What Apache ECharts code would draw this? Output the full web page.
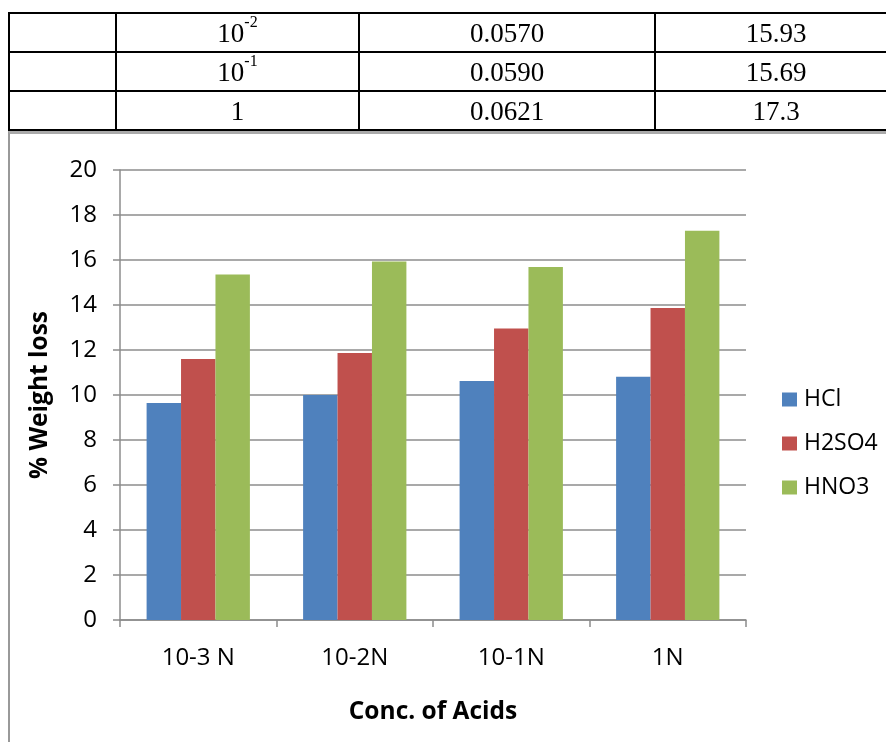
<!DOCTYPE html>
<html><head><meta charset="utf-8">
<script src="https://cdn.jsdelivr.net/npm/echarts@6/dist/echarts.min.js"></script>
<style>
html,body{margin:0;padding:0;background:#fff;}
#wrap{position:relative;width:886px;height:742px;overflow:hidden;}
#chart{position:absolute;left:0;top:0;width:886px;height:742px;}
table{position:absolute;left:8px;top:12px;border-collapse:collapse;font-family:"Liberation Serif","Times New Roman",serif;font-size:27px;}
td{border:2px solid #000;height:37px;padding:0;text-align:center;vertical-align:middle;line-height:30px;}
sup{font-size:16px;vertical-align:top;position:relative;top:-4px;line-height:16px;}
#frame{position:absolute;left:8px;top:131px;width:900px;height:700px;border-left:2px solid #999;border-top:3px solid #aaa;}
</style></head>
<body><div id="wrap">
<div id="chart"></div>
<div id="frame"></div>
<table id="tbl"></table>
</div>
<script>
const tableRows = [
  ["", "10<sup>-2</sup>", "0.0570", "15.93"],
  ["", "10<sup>-1</sup>", "0.0590", "15.69"],
  ["", "1", "0.0621", "17.3"]
];
const colWidths = [105, 241, 294, 240];

const categories = ["10-3 N", "10-2N", "10-1N", "1N"];
const hcl = [9.64, 10.0, 10.62, 10.81];
const h2so4 = [11.6, 11.87, 12.96, 13.87];
const hno3 = [15.36, 15.93, 15.69, 17.3];
const seriesNames = ["HCl", "H2SO4", "HNO3"];
const colors = ["#4F81BD", "#C0504D", "#9BBB59"];

const tbl = document.getElementById('tbl');
tableRows.forEach(r => {
  const tr = document.createElement('tr');
  r.forEach((c, i) => {
    const td = document.createElement('td');
    td.style.width = colWidths[i] + 'px';
    td.style.minWidth = colWidths[i] + 'px';
    td.innerHTML = c;
    tr.appendChild(td);
  });
  tbl.appendChild(tr);
});

const chart = echarts.init(document.getElementById('chart'));
const font = '"Open Sans", Lato, sans-serif';
const gray = '#8c8c8c';
chart.setOption({
  animation: false,
  color: colors,
  grid: {left: 120, right: 140, top: 170, bottom: 122},
  legend: {
    orient: 'vertical', left: 777, top: 383,
    itemWidth: 15, itemHeight: 14, itemGap: 21,
    icon: 'rect',
    textStyle: {fontFamily: font, fontSize: 23, color: '#000', padding: [0,0,0,2]},
    data: seriesNames
  },
  xAxis: {
    type: 'category', data: categories,
    axisLine: {lineStyle: {color: gray, width: 1.5}},
    axisTick: {show: true, length: 7, lineStyle: {color: gray, width: 1.5}},
    axisLabel: {fontFamily: font, fontSize: 24, color: '#000', margin: 26},
    name: 'Conc. of Acids', nameLocation: 'middle', nameGap: 80,
    nameTextStyle: {fontFamily: font, fontSize: 24.5, fontWeight: 'bold', color: '#000'}
  },
  yAxis: {
    type: 'value', min: 0, max: 20, interval: 2,
    axisLine: {show: true, lineStyle: {color: gray, width: 1.5}},
    axisTick: {show: true, length: 7, lineStyle: {color: gray, width: 1.5}},
    splitLine: {lineStyle: {color: gray, width: 1.5}},
    axisLabel: {fontFamily: font, fontSize: 24, color: '#000', margin: 23},
    name: '% Weight loss', nameLocation: 'middle', nameGap: 67,
    nameTextStyle: {fontFamily: font, fontSize: 24.5, fontWeight: 'bold', color: '#000'}
  },
  series: [
    {name: seriesNames[0], type: 'bar', data: hcl, barGap: '0%', barCategoryGap: '34%'},
    {name: seriesNames[1], type: 'bar', data: h2so4, barGap: '0%', barCategoryGap: '34%'},
    {name: seriesNames[2], type: 'bar', data: hno3, barGap: '0%', barCategoryGap: '34%'}
  ]
});
</script>
</body></html>
